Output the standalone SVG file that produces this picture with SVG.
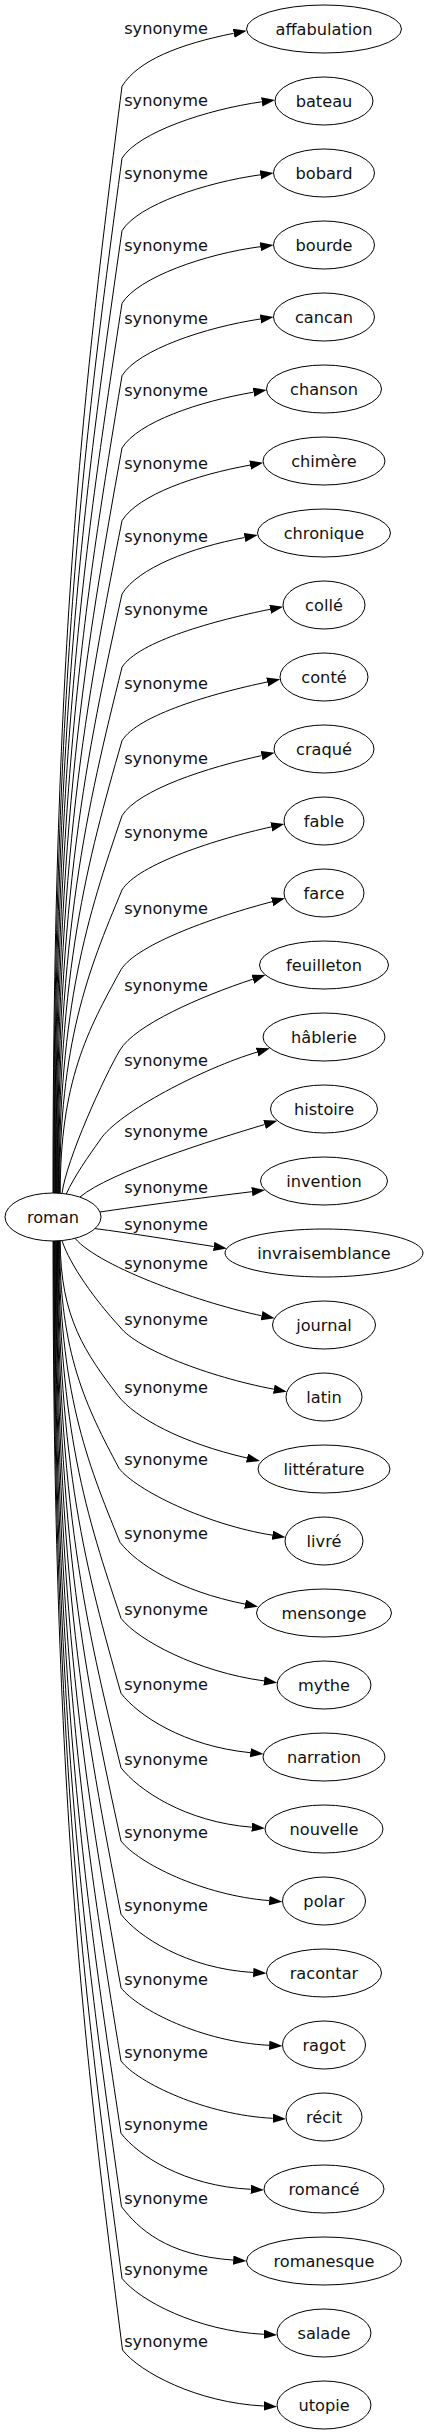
<svg xmlns="http://www.w3.org/2000/svg" width="429" height="2435" viewBox="0 0 429 2435">
<style>
.n ellipse{fill:#fff;stroke:#000;stroke-width:1}
text{font-family:"DejaVu Sans","Liberation Sans",sans-serif;font-size:16.2px;fill:#111}
.n text{text-anchor:middle}
.e path{fill:none;stroke:#000;stroke-width:1;marker-end:url(#arr)}
.e text{text-anchor:middle}
</style>
<defs>
<marker id="arr" markerUnits="userSpaceOnUse" markerWidth="14" markerHeight="10" refX="0" refY="4.67" orient="auto"><path d="M0,0 L13.3,4.67 L0,9.33 z" fill="#000"/></marker>
</defs>
<rect width="429" height="2435" fill="#fff"/>
<g id="edges" class="e">
<path d="M53,1193 C53,639.6 84.1,385.1 122,86.3 C138,60.3 179.8,44.1 233.7,33.3"/>
<path d="M53.6,1193 C53.6,675.6 84.4,437.7 122,158.3 C138,132.3 207.3,109.4 261.8,101.8"/>
<path d="M54.2,1193 C54.2,711.9 84.7,490.5 122,230.7 C138,204.7 205.8,182.4 260.3,174.8"/>
<path d="M54.8,1193 C54.8,748.2 85,543.5 122,303.3 C138,277.3 205.8,253.8 260.3,246.7"/>
<path d="M55.4,1193 C55.4,784.4 85.4,596.4 122,375.7 C138,349.7 206,327.2 260.4,319"/>
<path d="M56,1193.1 C56,820.5 85.7,649.2 122,448 C138,422 199.3,401.4 253.5,392.2"/>
<path d="M56.6,1193.1 C56.6,856.9 86,702.2 122,520.7 C138,494.7 196,474.8 250.1,465.1"/>
<path d="M57.2,1193.2 C57.2,893.6 86.4,755.8 122,594 C138,568 190.6,547.8 244.6,537.5"/>
<path d="M57.8,1193.2 C57.8,930.3 86.7,809.3 122,667.3 C138,641.3 216.2,620.1 270.1,609.3"/>
<path d="M58.4,1193.3 C58.4,967 87,862.9 122,740.7 C138,714.7 213.4,693.3 267.2,682"/>
<path d="M59,1193.3 C59,1004.5 87.3,917.7 122,815.7 C138,789.7 207.9,767.4 261.6,755.6"/>
<path d="M59.6,1193.4 C59.6,1041.7 87.7,971.9 122,890 C138,864 217.6,838.7 271.3,826.9"/>
<path d="M60.2,1193.4 C60.2,1081.6 87.6,1030.1 121,969.7 C137,943.7 218.9,915.5 272.1,901.7"/>
<path d="M62,1193.8 C66,1160 105,1075 120,1050 C135,1025 200.6,996.4 252.8,979.2"/>
<path d="M66,1194.5 C75,1175 88,1157 100,1140 C118,1112 204.4,1067.9 257.1,1052.1"/>
<path d="M80,1197 C110,1172 211.9,1140.3 264.6,1124.5"/>
<path d="M100,1212 C140,1206 200,1198 251.9,1191.7"/>
<path d="M95,1228.6 C130,1233 175,1240.5 213.7,1246.5"/>
<path d="M75,1238.3 C100,1268 207.7,1304.9 261.6,1315.7"/>
<path d="M62,1240.6 C70,1265 95,1300 120,1327 C137,1349 208,1376.7 273.8,1389.2"/>
<path d="M60.2,1240.6 C60.2,1318.2 86.2,1353.8 118,1395.7 C135,1417.7 181.7,1443 247,1458"/>
<path d="M59.65,1240.6 C59.65,1354.5 86.4,1406.8 119,1468.3 C136,1490.3 206.2,1524.6 272.4,1535.2"/>
<path d="M59.1,1240.6 C59.1,1391.5 86.5,1460.8 120,1542.3 C137,1564.3 179.3,1591 245,1604.1"/>
<path d="M58.55,1240.6 C58.55,1429.5 86.7,1516.3 121,1618.3 C138,1640.3 197.6,1671.9 264,1680.9"/>
<path d="M58,1240.6 C58,1467 86.35,1571.1 121,1693.3 C138,1715.3 183.6,1746 250.3,1752.7"/>
<path d="M57.45,1240.6 C57.45,1504.2 86.05,1625.4 121,1767.7 C138,1789.7 184.9,1821.9 251.7,1827.2"/>
<path d="M56.9,1240.6 C56.9,1540.8 85.7,1678.9 121,1841 C138,1863 202.4,1895.3 269.2,1900.6"/>
<path d="M56.35,1240.6 C56.35,1577.5 85.4,1732.4 121,1914.3 C138,1936.3 186.3,1968.5 253.2,1972.5"/>
<path d="M55.8,1240.6 C55.8,1614.2 85.1,1786 121,1987.7 C138,2009.7 202.3,2042 269.2,2045.3"/>
<path d="M55.25,1240.6 C55.25,1650.8 84.8,1839.5 121,2061 C138,2083 205.9,2115 272.8,2118.3"/>
<path d="M54.7,1240.6 C54.7,1687 84.5,1892.3 121,2133.3 C138,2155.3 183.8,2186 250.7,2189.3"/>
<path d="M54.15,1240.6 C54.15,1723.6 84.5,1945.9 121.5,2206.7 C138.5,2228.7 166.4,2255.4 233.2,2260.1"/>
<path d="M53.6,1240.6 C53.6,1759.4 84.4,1998.1 122,2278.3 C139,2300.3 197,2331 263.9,2334.3"/>
<path d="M53.05,1240.6 C53.05,1795.3 84.3,2050.5 122.5,2350 C139.5,2372 196.9,2402.7 263.8,2406"/>
<text x="166" y="34.3">synonyme</text>
<text x="166" y="106.3">synonyme</text>
<text x="166" y="178.7">synonyme</text>
<text x="166" y="251.3">synonyme</text>
<text x="166" y="323.7">synonyme</text>
<text x="166" y="396">synonyme</text>
<text x="166" y="468.7">synonyme</text>
<text x="166" y="542">synonyme</text>
<text x="166" y="615.3">synonyme</text>
<text x="166" y="688.7">synonyme</text>
<text x="166" y="763.7">synonyme</text>
<text x="166" y="838">synonyme</text>
<text x="166" y="913.7">synonyme</text>
<text x="166" y="991.3">synonyme</text>
<text x="166" y="1066">synonyme</text>
<text x="166" y="1137">synonyme</text>
<text x="166" y="1192.7">synonyme</text>
<text x="166" y="1230.3">synonyme</text>
<text x="166" y="1268.7">synonyme</text>
<text x="166" y="1325.3">synonyme</text>
<text x="166" y="1392.7">synonyme</text>
<text x="166" y="1465.3">synonyme</text>
<text x="166" y="1539.3">synonyme</text>
<text x="166" y="1615.3">synonyme</text>
<text x="166" y="1690.3">synonyme</text>
<text x="166" y="1764.7">synonyme</text>
<text x="166" y="1838">synonyme</text>
<text x="166" y="1911.3">synonyme</text>
<text x="166" y="1984.7">synonyme</text>
<text x="166" y="2058">synonyme</text>
<text x="166" y="2130.3">synonyme</text>
<text x="166" y="2203.7">synonyme</text>
<text x="166" y="2275.3">synonyme</text>
<text x="166" y="2347">synonyme</text>
</g>
<g id="node-roman" class="n"><ellipse cx="53" cy="1217" rx="48" ry="24"/><text x="53" y="1222.5">roman</text></g>
<g id="node-affabulation" class="n"><ellipse cx="324" cy="29" rx="77.5" ry="24"/><text x="324" y="34.5">affabulation</text></g>
<g id="node-bateau" class="n"><ellipse cx="324" cy="101" rx="49" ry="24"/><text x="324" y="106.5">bateau</text></g>
<g id="node-bobard" class="n"><ellipse cx="324" cy="173" rx="50.5" ry="24"/><text x="324" y="178.5">bobard</text></g>
<g id="node-bourde" class="n"><ellipse cx="324" cy="245" rx="50.5" ry="24"/><text x="324" y="250.5">bourde</text></g>
<g id="node-cancan" class="n"><ellipse cx="324" cy="317" rx="50.5" ry="24"/><text x="324" y="322.5">cancan</text></g>
<g id="node-chanson" class="n"><ellipse cx="324" cy="389" rx="57.5" ry="24"/><text x="324" y="394.5">chanson</text></g>
<g id="node-chimere" class="n"><ellipse cx="324" cy="461" rx="61" ry="24"/><text x="324" y="466.5">chimère</text></g>
<g id="node-chronique" class="n"><ellipse cx="324" cy="533" rx="66.5" ry="24"/><text x="324" y="538.5">chronique</text></g>
<g id="node-colle" class="n"><ellipse cx="324" cy="605" rx="41" ry="24"/><text x="324" y="610.5">collé</text></g>
<g id="node-conte" class="n"><ellipse cx="324" cy="677" rx="44" ry="24"/><text x="324" y="682.5">conté</text></g>
<g id="node-craque" class="n"><ellipse cx="324" cy="749" rx="50" ry="24"/><text x="324" y="754.5">craqué</text></g>
<g id="node-fable" class="n"><ellipse cx="324" cy="821" rx="40" ry="24"/><text x="324" y="826.5">fable</text></g>
<g id="node-farce" class="n"><ellipse cx="324" cy="893" rx="40" ry="24"/><text x="324" y="898.5">farce</text></g>
<g id="node-feuilleton" class="n"><ellipse cx="324" cy="965" rx="64.5" ry="24"/><text x="324" y="970.5">feuilleton</text></g>
<g id="node-hablerie" class="n"><ellipse cx="324" cy="1037" rx="61" ry="24"/><text x="324" y="1042.5">hâblerie</text></g>
<g id="node-histoire" class="n"><ellipse cx="324" cy="1109" rx="53.5" ry="24"/><text x="324" y="1114.5">histoire</text></g>
<g id="node-invention" class="n"><ellipse cx="324" cy="1181" rx="63.5" ry="24"/><text x="324" y="1186.5">invention</text></g>
<g id="node-invraisemblance" class="n"><ellipse cx="324" cy="1253" rx="99" ry="24"/><text x="324" y="1258.5">invraisemblance</text></g>
<g id="node-journal" class="n"><ellipse cx="324" cy="1325" rx="51.5" ry="24"/><text x="324" y="1330.5">journal</text></g>
<g id="node-latin" class="n"><ellipse cx="324" cy="1397" rx="38" ry="24"/><text x="324" y="1402.5">latin</text></g>
<g id="node-litterature" class="n"><ellipse cx="324" cy="1469" rx="66" ry="24"/><text x="324" y="1474.5">littérature</text></g>
<g id="node-livre" class="n"><ellipse cx="324" cy="1541" rx="39" ry="24"/><text x="324" y="1546.5">livré</text></g>
<g id="node-mensonge" class="n"><ellipse cx="324" cy="1613" rx="67.5" ry="24"/><text x="324" y="1618.5">mensonge</text></g>
<g id="node-mythe" class="n"><ellipse cx="324" cy="1685" rx="47" ry="24"/><text x="324" y="1690.5">mythe</text></g>
<g id="node-narration" class="n"><ellipse cx="324" cy="1757" rx="61" ry="24"/><text x="324" y="1762.5">narration</text></g>
<g id="node-nouvelle" class="n"><ellipse cx="324" cy="1829" rx="59" ry="24"/><text x="324" y="1834.5">nouvelle</text></g>
<g id="node-polar" class="n"><ellipse cx="324" cy="1901" rx="41.5" ry="24"/><text x="324" y="1906.5">polar</text></g>
<g id="node-racontar" class="n"><ellipse cx="324" cy="1973" rx="57.5" ry="24"/><text x="324" y="1978.5">racontar</text></g>
<g id="node-ragot" class="n"><ellipse cx="324" cy="2045" rx="41.5" ry="24"/><text x="324" y="2050.5">ragot</text></g>
<g id="node-recit" class="n"><ellipse cx="324" cy="2117" rx="38" ry="24"/><text x="324" y="2122.5">récit</text></g>
<g id="node-romance" class="n"><ellipse cx="324" cy="2189" rx="60" ry="24"/><text x="324" y="2194.5">romancé</text></g>
<g id="node-romanesque" class="n"><ellipse cx="324" cy="2261" rx="77.5" ry="24"/><text x="324" y="2266.5">romanesque</text></g>
<g id="node-salade" class="n"><ellipse cx="324" cy="2333" rx="47" ry="24"/><text x="324" y="2338.5">salade</text></g>
<g id="node-utopie" class="n"><ellipse cx="324" cy="2405" rx="47" ry="24"/><text x="324" y="2410.5">utopie</text></g>
</svg>
